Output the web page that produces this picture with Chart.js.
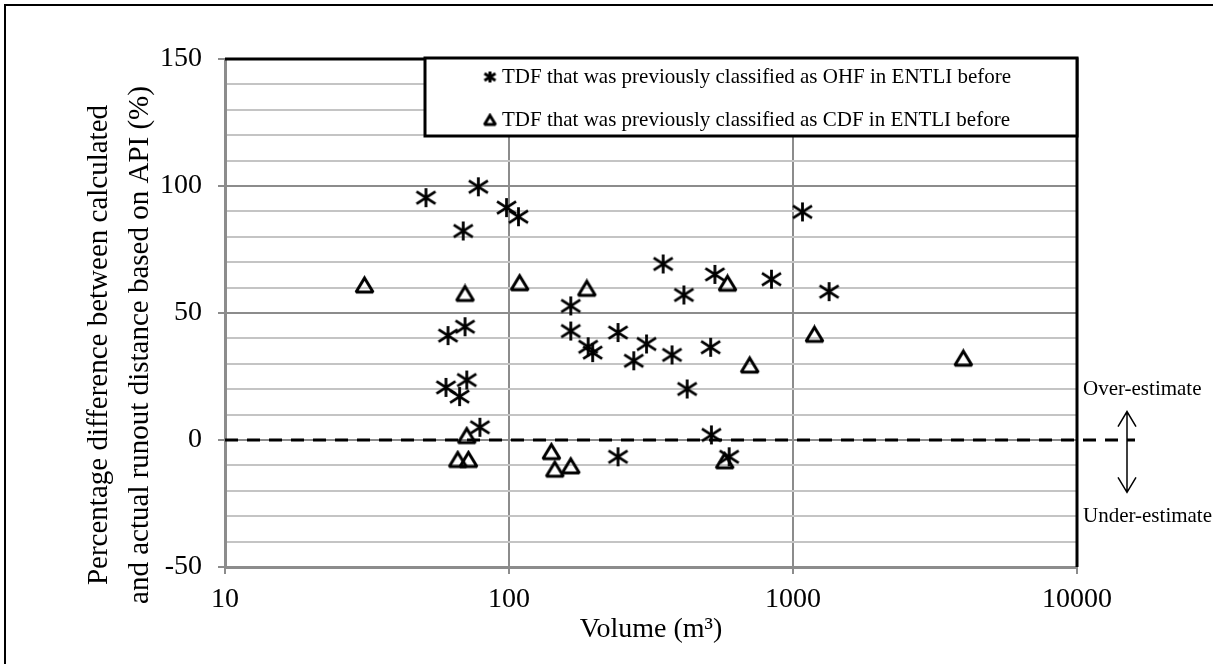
<!DOCTYPE html>
<html>
<head>
<meta charset="utf-8">
<script src="https://cdn.jsdelivr.net/npm/chart.js@4.4.0/dist/chart.umd.min.js"></script>
<style>
  html, body { margin: 0; padding: 0; background: #fff; }
  canvas { display: block; }
</style>
</head>
<body>
<canvas id="runoutChart" width="1213" height="664"></canvas>
<script>
// TDF previously classified as OHF (asterisks)
const ohfVolume = [51, 69, 78, 98, 108, 61, 70, 60, 71, 67, 79, 165, 165, 190, 197, 242, 275, 305, 349, 375, 413, 424, 531, 513, 840, 1340, 516, 596, 242, 1080];
const ohfDiff = [95.4, 82.3, 99.7, 91.5, 87.9, 41.1, 44.6, 20.7, 23.6, 17.1, 5.0, 52.8, 42.9, 36.7, 34.4, 42.3, 31.2, 37.8, 69.3, 33.5, 57.1, 20.1, 65.2, 36.5, 63.3, 58.4, 2.0, -6.6, -6.6, 89.8];

// TDF previously classified as CDF (triangles)
const cdfVolume = [31, 70, 71, 66, 72, 109, 188, 141, 145, 165, 588, 704, 1190, 575, 3980];
const cdfDiff = [61.0, 57.7, 1.7, -7.7, -7.7, 61.9, 59.7, -4.6, -11.5, -10.2, 61.7, 29.5, 41.6, -8.2, 32.2];

const xTicks = [10, 100, 1000, 10000];
const seriesLabels = [
    'TDF that was previously classified as OHF in ENTLI before',
    'TDF that was previously classified as CDF in ENTLI before'
];
const yTitle = ['Percentage difference between calculated', 'and actual runout distance based on API (%)'];
const xTitle = 'Volume (m³)';

Chart.defaults.font.family = "'Liberation Serif', 'Times New Roman', serif";
Chart.defaults.color = '#000';

// Excel style markers drawn onto small canvases
function makeStar(size, lw) {
    const pad = Math.ceil(lw);
    const c = document.createElement('canvas');
    c.width = size + pad * 2;
    c.height = size + pad * 2;
    const g = c.getContext('2d');
    g.strokeStyle = '#000';
    g.lineWidth = lw;
    g.beginPath();
    g.moveTo(pad + size / 2, pad);
    g.lineTo(pad + size / 2, pad + size);
    g.moveTo(pad, pad + size * 0.18);
    g.lineTo(pad + size, pad + size * 0.82);
    g.moveTo(pad, pad + size * 0.82);
    g.lineTo(pad + size, pad + size * 0.18);
    g.stroke();
    return c;
}

function makeTriangle(w, h, lw) {
    const pad = Math.ceil(lw);
    const c = document.createElement('canvas');
    c.width = w + pad * 2;
    c.height = h + pad * 2;
    const g = c.getContext('2d');
    g.strokeStyle = '#000';
    g.lineWidth = lw;
    g.lineJoin = 'miter';
    g.miterLimit = 2;
    g.beginPath();
    g.moveTo(pad + w / 2, pad);
    g.lineTo(pad + w, pad + h);
    g.lineTo(pad, pad + h);
    g.closePath();
    g.stroke();
    return c;
}

const starMarker = makeStar(19, 2.8);
const triMarker = makeTriangle(17, 14, 3);
const starLegend = makeStar(11, 3);
const triLegend = makeTriangle(11, 9, 3);

const extrasPlugin = {
    id: 'extras',
    beforeDraw(chart) {
        const ctx = chart.ctx;
        ctx.save();
        ctx.fillStyle = '#fff';
        ctx.fillRect(0, 0, chart.width, chart.height);
        ctx.strokeStyle = '#000';
        ctx.lineWidth = 2;
        ctx.strokeRect(5, 5, chart.width + 20, chart.height + 20);
        ctx.restore();
    },
    beforeDatasetsDraw(chart) {
        const { ctx, chartArea, scales } = chart;
        const y0 = scales.y.getPixelForValue(0);
        ctx.save();
        ctx.strokeStyle = '#000';
        ctx.lineWidth = 3;
        ctx.setLineDash([13, 9]);
        ctx.beginPath();
        ctx.moveTo(chartArea.left, y0);
        ctx.lineTo(chartArea.right + 58, y0);
        ctx.stroke();
        ctx.restore();
    },
    afterDraw(chart) {
        const { ctx, chartArea, scales } = chart;
        const { left, right, top, bottom } = chartArea;
        ctx.save();
        // top and right frame of the plot area
        ctx.strokeStyle = '#000';
        ctx.lineWidth = 3;
        ctx.beginPath();
        ctx.moveTo(left, top);
        ctx.lineTo(right, top);
        ctx.lineTo(right, bottom);
        ctx.stroke();

        // y axis title (sits a little below the plot centre, as in the original)
        ctx.save();
        ctx.translate(0, (top + bottom) / 2 + 32);
        ctx.rotate(-Math.PI / 2);
        ctx.fillStyle = '#000';
        ctx.font = "29px 'Liberation Serif'";
        ctx.textAlign = 'center';
        ctx.textBaseline = 'middle';
        ctx.fillText(yTitle[0], 0, 99);
        ctx.fillText(yTitle[1], 0, 140);
        ctx.restore();

        // over / under estimate arrow
        const ax = right + 50;
        const yUp = scales.y.getPixelForValue(11.2);
        const yDown = scales.y.getPixelForValue(-20.6);
        ctx.lineWidth = 1.5;
        ctx.beginPath();
        ctx.moveTo(ax, yUp);
        ctx.lineTo(ax, yDown);
        ctx.moveTo(ax - 9, yUp + 15);
        ctx.lineTo(ax, yUp);
        ctx.lineTo(ax + 9, yUp + 15);
        ctx.moveTo(ax - 9, yDown - 15);
        ctx.lineTo(ax, yDown);
        ctx.lineTo(ax + 9, yDown - 15);
        ctx.stroke();

        ctx.fillStyle = '#000';
        ctx.font = "21px 'Liberation Serif'";
        ctx.textAlign = 'left';
        ctx.textBaseline = 'middle';
        ctx.fillText('Over-estimate', right + 6, scales.y.getPixelForValue(20));
        ctx.fillText('Under-estimate', right + 6, scales.y.getPixelForValue(-30));

        // legend box
        const lx = left + 200;
        const lw = right - lx;
        const lh = 78;
        ctx.fillStyle = '#fff';
        ctx.fillRect(lx, top - 1, lw, lh);
        ctx.lineWidth = 3;
        ctx.strokeStyle = '#000';
        ctx.strokeRect(lx, top - 1, lw, lh);
        const marks = [starLegend, triLegend];
        const rows = [top + 18, top + 61];
        chart.data.datasets.forEach((ds, i) => {
            const m = marks[i];
            ctx.drawImage(m, lx + 65 - m.width / 2, rows[i] - m.height / 2);
            ctx.fillStyle = '#000';
            ctx.fillText(ds.label, lx + 77, rows[i]);
        });
        ctx.restore();
    }
};

const ctx = document.getElementById('runoutChart').getContext('2d');
new Chart(ctx, {
    type: 'scatter',
    data: {
        datasets: [
            {
                label: seriesLabels[0],
                data: ohfVolume.map((v, i) => ({ x: v, y: ohfDiff[i] })),
                pointStyle: starMarker,
                pointRadius: 10,
                showLine: false
            },
            {
                label: seriesLabels[1],
                data: cdfVolume.map((v, i) => ({ x: v, y: cdfDiff[i] })),
                pointStyle: triMarker,
                pointRadius: 10,
                showLine: false
            }
        ]
    },
    options: {
        responsive: false,
        animation: false,
        layout: { padding: { top: 59, right: 136, bottom: 0, left: 0 } },
        plugins: {
            legend: { display: false },
            tooltip: { enabled: false }
        },
        scales: {
            x: {
                type: 'logarithmic',
                min: 10,
                max: 10000,
                afterBuildTicks: scale => { scale.ticks = xTicks.map(v => ({ value: v })); },
                afterFit: scale => { scale.height = 97; },
                ticks: {
                    callback: v => String(v),
                    autoSkip: false,
                    maxRotation: 0,
                    padding: 9,
                    font: { size: 28 }
                },
                grid: {
                    color: c => (c.tick && (c.tick.value === 100 || c.tick.value === 1000)) ? '#8c8c8c' : 'rgba(0,0,0,0)',
                    tickColor: '#8c8c8c',
                    lineWidth: 2,
                    tickLength: 7
                },
                border: { color: '#8c8c8c', width: 3 },
                title: {
                    display: true,
                    text: xTitle,
                    font: { size: 28 },
                    padding: { top: 0, bottom: 18 }
                }
            },
            y: {
                min: -50,
                max: 150,
                afterFit: scale => { scale.width = 225; },
                ticks: {
                    stepSize: 10,
                    autoSkip: false,
                    callback: v => (v % 50 === 0 ? String(v) : ''),
                    padding: 16,
                    font: { size: 28 }
                },
                grid: {
                    color: c => (c.tick && c.tick.value % 50 === 0) ? '#8c8c8c' : '#c4c4c4',
                    tickColor: c => (c.tick && c.tick.value % 50 === 0) ? '#8c8c8c' : 'rgba(0,0,0,0)',
                    lineWidth: 2,
                    tickLength: 7
                },
                border: { color: '#8c8c8c', width: 3 }
            }
        }
    },
    plugins: [extrasPlugin]
});
</script>
</body>
</html>
